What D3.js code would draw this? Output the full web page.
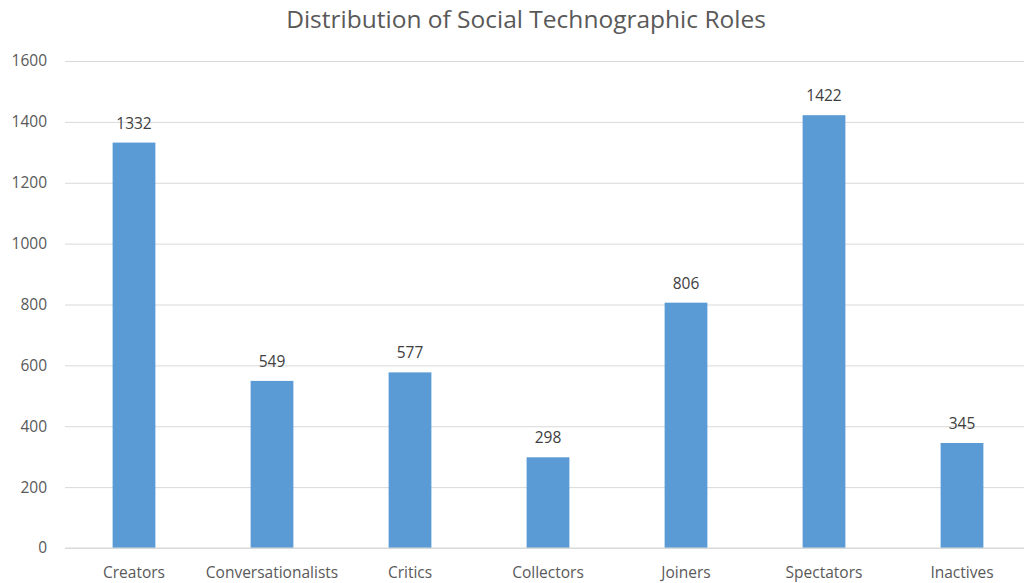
<!DOCTYPE html>
<html>
<head>
<meta charset="utf-8">
<script src="https://cdn.jsdelivr.net/npm/d3@7"></script>
<style>
  html, body { margin: 0; padding: 0; background: #fff; }
  svg { display: block; font-family: "Open Sans", sans-serif; }
</style>
</head>
<body>
<svg id="chart" width="1024" height="583"></svg>
<script>
const categories = ["Creators", "Conversationalists", "Critics", "Collectors", "Joiners", "Spectators", "Inactives"];
const values = [1332, 549, 577, 298, 806, 1422, 345];
const yTicks = [0, 200, 400, 600, 800, 1000, 1200, 1400, 1600];
const title = "Distribution of Social Technographic Roles";

const FONT = "'Open Sans', sans-serif";
const svg = d3.select("#chart");
const plotLeft = 65, plotRight = 1031, plotTop = 61, plotBottom = 548;

const x = d3.scaleBand().domain(categories).range([plotLeft, plotRight]).paddingInner(0.69).paddingOuter(0.345);
const y = d3.scaleLinear().domain([0, 1600]).range([plotBottom, plotTop]);

// title
svg.append("text")
  .attr("x", 526).attr("y", 28)
  .attr("text-anchor", "middle")
  .attr("font-size", 24.5)
  .attr("fill", "#595959")
  .text(title);

// horizontal gridlines and y labels
const yAxis = d3.axisLeft(y).tickValues(yTicks).tickFormat(d3.format("d"))
  .tickSize(-(1024 - plotLeft)).tickPadding(18);
const gy = svg.append("g").attr("transform", `translate(${plotLeft},0)`).call(yAxis);
gy.select(".domain").remove();
gy.selectAll(".tick line").attr("stroke", "#d9d9d9").attr("stroke-width", 1);
gy.selectAll(".tick text").attr("fill", "#595959").attr("font-size", 15.5)
  .attr("font-family", FONT);

// bars
svg.append("g").selectAll("rect").data(values).join("rect")
  .attr("x", (d, i) => x(categories[i]))
  .attr("y", d => y(d))
  .attr("width", x.bandwidth())
  .attr("height", d => y(0) - y(d))
  .attr("fill", "#5b9bd5");

// baseline
svg.append("line")
  .attr("x1", plotLeft).attr("x2", 1024)
  .attr("y1", y(0)).attr("y2", y(0))
  .attr("stroke", "#d9d9d9");

// value labels
svg.append("g").selectAll("text").data(values).join("text")
  .attr("x", (d, i) => x(categories[i]) + x.bandwidth() / 2)
  .attr("y", d => y(d) - 14)
  .attr("text-anchor", "middle")
  .attr("font-size", 15.5)
  .attr("fill", "#404040")
  .text(d => d);

// category labels
const xAxis = d3.axisBottom(x).tickSize(0).tickPadding(19);
const gx = svg.append("g").attr("transform", `translate(0,${plotBottom})`).call(xAxis);
gx.select(".domain").remove();
gx.selectAll(".tick text").attr("fill", "#595959").attr("font-size", 15.5)
  .attr("font-family", FONT);
</script>
</body>
</html>
